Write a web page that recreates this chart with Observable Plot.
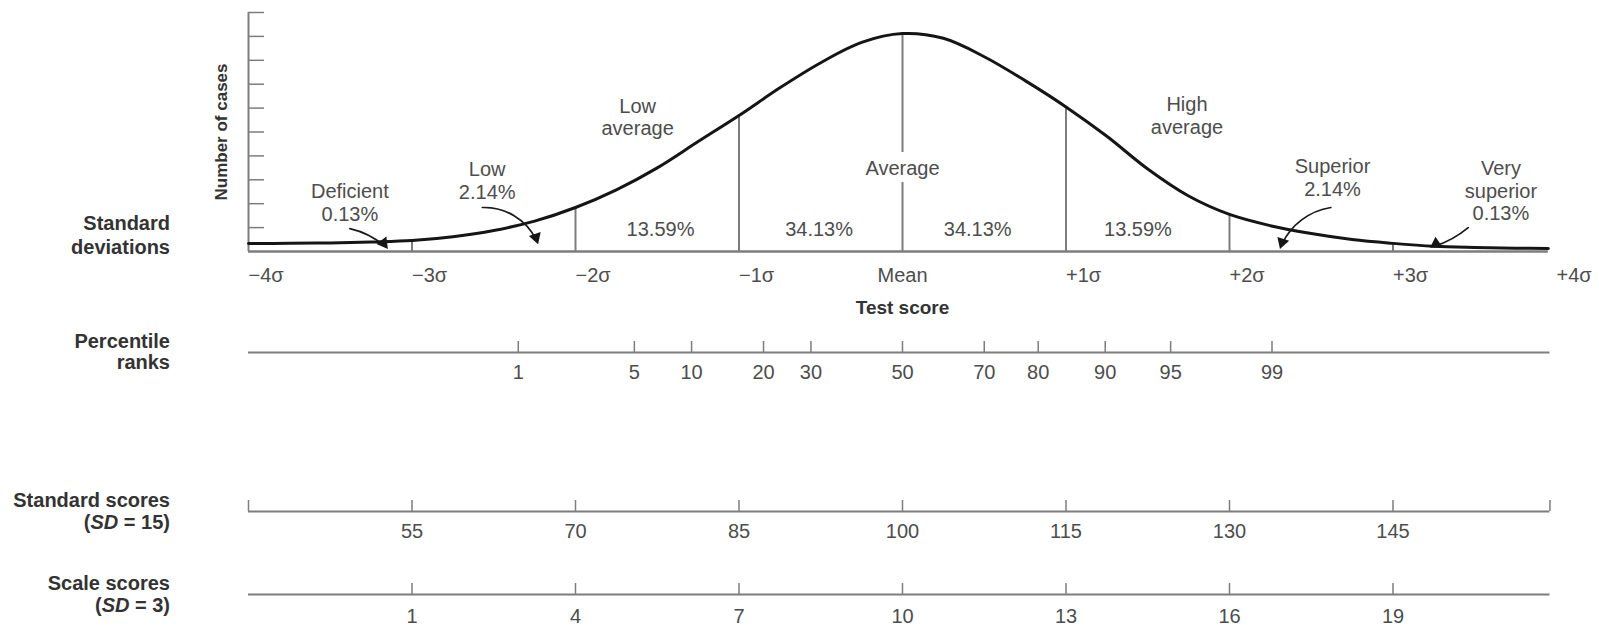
<!DOCTYPE html>
<html><head><meta charset="utf-8">
<script src="https://cdn.jsdelivr.net/npm/d3@7"></script>
<script src="https://cdn.jsdelivr.net/npm/@observablehq/plot@0.6"></script>
<style>
html,body{margin:0;padding:0;background:#fff;}
#wrap{position:relative;width:1599px;height:628px;overflow:hidden;background:#fff;}
#wrap svg{position:absolute;left:0;overflow:visible;}
.rowlab{position:absolute;left:0;width:170px;text-align:right;font-family:"Liberation Sans",Arial,sans-serif;font-weight:bold;font-size:20px;line-height:22px;color:#333;white-space:nowrap;}
</style></head><body><div id="wrap"></div>
<script>
// ---------- data ----------
// normal curve (x in standard deviations, height in y-axis tick units)
const curveSigma  = [-4,-3.75,-3.5,-3.25,-3,-2.75,-2.5,-2.25,-2,-1.75,-1.5,-1.25,-1,-0.75,-0.5,-0.25,0,0.25,0.5,0.75,1,1.25,1.5,1.75,2,2.25,2.5,2.75,3,3.25,3.5,3.75,3.95];
const curveHeight = [0.33,0.34,0.36,0.40,0.46,0.62,0.88,1.27,1.84,2.58,3.50,4.60,5.69,6.85,7.90,8.75,9.12,8.92,8.15,7.15,6.05,4.82,3.45,2.32,1.55,1.08,0.75,0.50,0.34,0.22,0.17,0.14,0.13];
const yTicks = [1,2,3,4,5,6,7,8,9,10];

// vertical standard-deviation dividers
const sigmaLineAt  = [-3,-2,-1,1,2,3];
const sigmaLineTop = [0.46,1.84,5.69,6.05,1.55,0.34];
const meanTop = 9.12;
const meanGap = [2.89,4.14];

// x tick labels
const sigmaTicks  = [-4,-3,-2,-1,0,1,2,3,4];
const sigmaLabels = ["−4σ","−3σ","−2σ","−1σ","Mean","+1σ","+2σ","+3σ","+4σ"];
const axisEnd = 3.96;

// region labels
const regionText   = ["Deficient\n0.13%","Low\n2.14%","Low\naverage","13.59%","34.13%","Average","34.13%","13.59%","High\naverage","Superior\n2.14%","Very\nsuperior\n0.13%"];
const regionSigma  = [-3.38,-2.54,-1.62,-1.48,-0.51,0,0.46,1.44,1.74,2.63,3.66];
const regionHeight = [2.05,2.97,5.63,0.96,0.96,3.51,0.96,0.96,5.69,3.10,2.55];

// pointer arrows
const arrowFromSigma  = [-3.38,-2.57,2.62,3.46];
const arrowFromHeight = [0.96,1.84,1.84,1.00];
const arrowToSigma    = [-3.15,-2.23,2.31,3.23];
const arrowToHeight   = [0.13,0.33,0.13,0.17];
const arrowBend       = [15,35,-30,12];
const arrowHeadAngle  = [143,162,198,236];

// lower scales
const percentileRanks = [1,5,10,20,30,50,70,80,90,95,99];
const percentileSigma = [-2.35,-1.64,-1.29,-0.85,-0.56,0,0.50,0.83,1.24,1.64,2.26];
const standardScores  = [55,70,85,100,115,130,145];
const standardDomain  = [40,160];
const scaleScores     = [1,4,7,10,13,16,19];
const scaleDomain     = [-2,22];

// ---------- drawing ----------
const W = 1599, ML = 248, MR = 43;
const GRAY = "#7d7d7d", TEXT = "#4d4d4d", FONT = "'Liberation Sans', Arial, sans-serif";
const baseStyle = {fontFamily: FONT, fontSize: "20px", color: TEXT, background: "transparent", overflow: "visible"};
const wrap = document.getElementById("wrap");

const curve = curveSigma.map((s, i) => ({s, h: curveHeight[i]}));
const sigmaLines = sigmaLineAt.map((s, i) => ({s, top: sigmaLineTop[i]}));
const meanSegments = [{s: 0, y1: 0, y2: meanGap[0]}, {s: 0, y1: meanGap[1], y2: meanTop}];
const regions = regionText.map((t, i) => ({t, s: regionSigma[i], h: regionHeight[i]}));
const sigmaLabelMap = new Map(sigmaTicks.map((d, i) => [d, sigmaLabels[i]]));

const arrowMarks = arrowBend.flatMap((b, i) => {
  const a = arrowHeadAngle[i] * Math.PI / 180, back = 6.5;
  return [
    Plot.arrow([{x1: arrowFromSigma[i], y1: arrowFromHeight[i], x2: arrowToSigma[i], y2: arrowToHeight[i]}],
      {x1: "x1", y1: "y1", x2: "x2", y2: "y2", bend: b, stroke: "#1a1a1a", strokeWidth: 1.7, headLength: 0, insetEnd: 4}),
    Plot.dot([{x: arrowToSigma[i], y: arrowToHeight[i]}],
      {x: "x", y: "y", symbol: "triangle", r: 4.6, fill: "#151515", stroke: "none", rotate: arrowHeadAngle[i],
       dx: -back * Math.sin(a), dy: back * Math.cos(a)})
  ];
});

const main = Plot.plot({
  width: W, height: 330, marginLeft: ML, marginRight: MR, marginTop: 12, marginBottom: 79,
  x: {domain: [-4, 4]},
  y: {domain: [0, 10], axis: null},
  style: baseStyle,
  marks: [
    Plot.ruleX([-4], {y1: 0, y2: 10, stroke: GRAY, strokeWidth: 2}),
    Plot.axisY({ticks: yTicks, tickSize: -16, tickFormat: () => "", stroke: GRAY, strokeWidth: 1.5, label: null}),
    Plot.text(["Number of cases"], {frameAnchor: "left", textAnchor: "middle", rotate: -90, dx: -27, fontWeight: "bold", fontSize: 17, fill: "#333"}),
    Plot.ruleY([0], {x1: curveSigma[0], x2: curveSigma[curveSigma.length - 1], stroke: GRAY, strokeWidth: 2.5}),
    Plot.ruleX(sigmaLines, {x: "s", y1: 0, y2: "top", stroke: GRAY, strokeWidth: 2}),
    Plot.ruleX(meanSegments, {x: "s", y1: "y1", y2: "y2", stroke: GRAY, strokeWidth: 2}),
    Plot.line(curve, {x: "s", y: "h", curve: "catmull-rom", stroke: "#151515", strokeWidth: 3}),
    Plot.text(regions, {x: "s", y: "h", text: "t", lineHeight: 1.12, fontSize: 20, fill: TEXT}),
    ...arrowMarks,
    Plot.axisX({ticks: sigmaTicks.filter(d => d !== 0), tickFormat: d => sigmaLabelMap.get(d), tickSize: 0, tickPadding: 16, textAnchor: "start", fontSize: 20, fill: TEXT, label: null}),
    Plot.axisX({ticks: [0], tickFormat: d => sigmaLabelMap.get(d), tickSize: 0, tickPadding: 16, fontSize: 20, fill: TEXT, label: null}),
    Plot.text(["Test score"], {frameAnchor: "bottom", dy: 62, fontWeight: "bold", fontSize: 19, fill: "#333"})
  ]
});
main.style.top = "0px";
wrap.appendChild(main);

function row({top, height, lineY, domain, ticks, labels, tickMarks, padding}) {
  const fmt = new Map(ticks.map((d, i) => [d, labels[i]]));
  const end = domain[0] + (domain[1] - domain[0]) * (axisEnd + 4) / 8;
  const svg = Plot.plot({
    width: W, height, marginLeft: ML, marginRight: MR, marginTop: lineY - 12, marginBottom: height - lineY,
    x: {domain},
    y: {domain: [0, 1], axis: null},
    style: baseStyle,
    marks: [
      Plot.ruleY([0], {x1: domain[0], x2: end, stroke: GRAY, strokeWidth: 2}),
      Plot.axisX({ticks: tickMarks.map(d => d === "end" ? end : d), tickSize: -11, tickFormat: () => "", stroke: GRAY, strokeWidth: 1.5, label: null}),
      Plot.axisX({ticks, tickFormat: d => fmt.get(d), tickSize: 0, tickPadding: padding, fontSize: 20, fill: TEXT, label: null})
    ]
  });
  svg.style.top = top + "px";
  wrap.appendChild(svg);
}

row({top: 330, height: 100, lineY: 22, domain: [-4, 4], ticks: percentileSigma, labels: percentileRanks.map(String), tickMarks: percentileSigma, padding: 12});
row({top: 430, height: 130, lineY: 81, domain: standardDomain, ticks: standardScores, labels: standardScores.map(String), tickMarks: [standardDomain[0], ...standardScores, "end"], padding: 12});
row({top: 560, height: 68, lineY: 34, domain: scaleDomain, ticks: scaleScores, labels: scaleScores.map(String), tickMarks: scaleScores, padding: 14});

// row labels
const rowLabels = [
  {top: 211, lh: 24, html: "Standard<br>deviations"},
  {top: 331, lh: 21, html: "Percentile<br>ranks"},
  {top: 489, lh: 22, html: "Standard scores<br>(<i>SD</i> = 15)"},
  {top: 572, lh: 22, html: "Scale scores<br>(<i>SD</i> = 3)"}
];
for (const r of rowLabels) {
  const d = document.createElement("div");
  d.className = "rowlab";
  d.style.top = r.top + "px";
  d.style.lineHeight = r.lh + "px";
  d.innerHTML = r.html;
  wrap.appendChild(d);
}
</script></body></html>
